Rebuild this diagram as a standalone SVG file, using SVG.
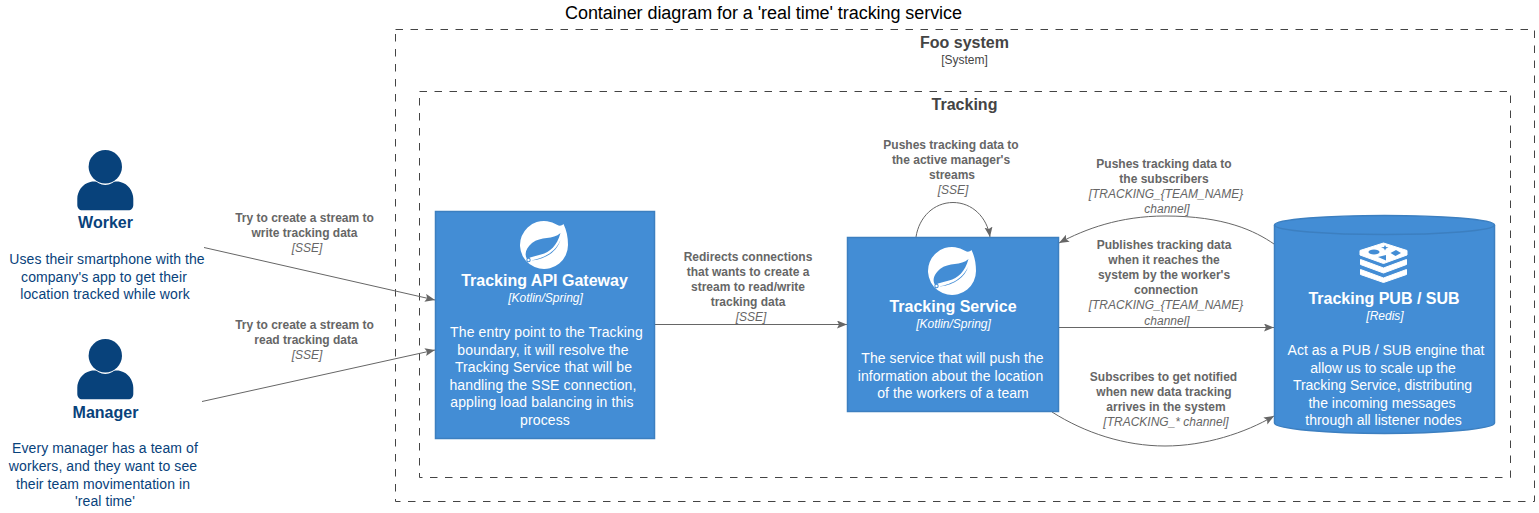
<svg xmlns="http://www.w3.org/2000/svg" width="1539" height="513" viewBox="0 0 1539 513">
<style>
text{font-family:"Liberation Sans",Arial,sans-serif;text-anchor:middle}
.title{font-size:18px;fill:#000;letter-spacing:-.06px}
.bn{font-size:16px;font-weight:bold;fill:#444}
.bt{font-size:12px;fill:#444}
.bound{fill:none;stroke:#444;stroke-width:1;stroke-dasharray:7.5 7.5}
.pn{font-size:16px;font-weight:bold;fill:#08427b}
.pd{font-size:14px;fill:#08427b;letter-spacing:.08px}
.cn{font-size:16px;font-weight:bold;fill:#fff}
.ct{font-size:12px;font-style:italic;fill:#fff}
.cd{font-size:14px;fill:#fff;letter-spacing:.12px}
#service .cd{letter-spacing:.06px}
#pubsub .cd{letter-spacing:0}
.box{fill:#438dd5;stroke:#3c7fc0;stroke-width:1.5}
.rl{font-size:12px;font-weight:bold;fill:#666}
.rt{font-size:12px;font-style:italic;fill:#666}
.c{fill:none;stroke:#666;stroke-width:1;marker-end:url(#a)}
.p{fill:#08427b}
</style>
<defs>
<marker id="a" markerUnits="userSpaceOnUse" markerWidth="12" markerHeight="10" refX="10" refY="4" orient="auto"><path d="M0 0L10 4L0 8L2 4Z" fill="#666"/></marker>
<g id="person"><circle cx="0" cy="0" r="16.700"/><path d="M-15 15.300C-11 14.500-9 15-7 16.300C-2.500 18.800 2.500 18.800 7 16.300C9 15 11 14.500 15 15.300C23 17 28 25 28 32V38C28 41.500 26 43.500 23 43.500H-23C-26 43.500-28 41.500-28 38V32C-28 25-23 17-15 15.300Z"/></g>
<g id="spring"><path fill="#fff" d="M19.500 -21C22.500 -15 24 -8 24 0A24 24 0 1 1 13 -20.200C15.500 -18.800 17.500 -19 19.500 -21Z"/><path fill="#438dd5" d="M16.500 -12C9 -5 -3 -9 -12 -2C-18 3-20 9-17 14C-13 11.500-8 11-3 9.500C6 7 13 1 16.500 -12Z"/><path fill="#438dd5" d="M-12.500 15.500C-4 13.500 10 10 16.500 -5C13 6 3 14-12.500 15.500Z"/><circle cx="-15.500" cy="15" r="2.200" fill="#438dd5"/><circle cx="-15.500" cy="15" r="1.200" fill="#fff"/></g>
</defs>
<text class="title" x="763.500" y="18.500">Container diagram for a 'real time' tracking service</text>
<g id="foo-system"><rect class="bound" x="395.500" y="29.500" width="1139" height="472"/><text class="bn" x="964.500" y="48">Foo system</text><text class="bt" x="964.500" y="64">[System]</text></g>
<g id="tracking"><rect class="bound" x="419.500" y="91.500" width="1091" height="386"/><text class="bn" x="964.500" y="110">Tracking</text></g>
<g id="connectors">
<path class="c" d="M204 247.500L435 300"/>
<path class="c" d="M202 401.500L435 350"/>
<path class="c" d="M655 324.500H847"/>
<path class="c" d="M916 237C919 217 934 202.500 953 202.500C972 202.500 987 217 990 237"/>
<path class="c" d="M1274 244C1255 231 1225 216 1165 216C1120 216 1085 229 1059 243"/>
<path class="c" d="M1059 327.500H1274"/>
<path class="c" d="M1052 412C1085 433 1125 446 1165 446C1205 446 1245 433 1274 416"/>
</g>
<g id="labels">
<text class="rl"><tspan x="304.500" y="222">Try to create a stream to</tspan><tspan x="304.500" y="237">write tracking data</tspan></text><text class="rt" x="307" y="252">[SSE]</text>
<text class="rl"><tspan x="304.500" y="329">Try to create a stream to</tspan><tspan x="306" y="344">read tracking data</tspan></text><text class="rt" x="307" y="359">[SSE]</text>
<text class="rl"><tspan x="748" y="261">Redirects connections</tspan><tspan x="748" y="276">that wants to create a</tspan><tspan x="748" y="291">stream to read/write</tspan><tspan x="748" y="306">tracking data</tspan></text><text class="rt" x="751" y="321">[SSE]</text>
<text class="rl"><tspan x="951" y="149">Pushes tracking data to</tspan><tspan x="951" y="164">the active manager's</tspan><tspan x="952" y="179">streams</tspan></text><text class="rt" x="953" y="194">[SSE]</text>
<text class="rl"><tspan x="1164" y="168">Pushes tracking data to</tspan><tspan x="1164" y="183">the subscribers</tspan></text><text class="rt"><tspan x="1166" y="198">[TRACKING_{TEAM_NAME}</tspan><tspan x="1167" y="213">channel]</tspan></text>
<text class="rl"><tspan x="1164" y="249">Publishes tracking data</tspan><tspan x="1164" y="264">when it reaches the</tspan><tspan x="1164" y="279">system by the worker's</tspan><tspan x="1166" y="294">connection</tspan></text><text class="rt"><tspan x="1166" y="309">[TRACKING_{TEAM_NAME}</tspan><tspan x="1167" y="325">channel]</tspan></text>
<text class="rl"><tspan x="1163.500" y="381">Subscribes to get notified</tspan><tspan x="1164" y="396">when new data tracking</tspan><tspan x="1166" y="411">arrives in the system</tspan></text><text class="rt" x="1166" y="426">[TRACKING_* channel]</text>
</g>
<g id="worker">
<use href="#person" class="p" x="105.300" y="166.700"/>
<text class="pn" x="105.500" y="227.500">Worker</text>
<text class="pd"><tspan x="107" y="264">Uses their smartphone with the</tspan><tspan x="104" y="282">company's app to get their</tspan><tspan x="105" y="299">location tracked while work</tspan></text>
</g>
<g id="manager">
<use href="#person" class="p" x="105.300" y="355.700"/>
<text class="pn" x="105.500" y="418">Manager</text>
<text class="pd"><tspan x="105" y="453">Every manager has a team of</tspan><tspan x="103" y="471">workers, and they want to see</tspan><tspan x="103" y="489">their team movimentation in</tspan><tspan x="105" y="506">'real time'</tspan></text>
</g>
<g id="gateway">
<rect class="box" x="435.500" y="211.500" width="219" height="227"/>
<use href="#spring" x="544" y="245"/>
<text class="cn" x="544.500" y="286">Tracking API Gateway</text>
<text class="ct" x="545.500" y="302">[Kotlin/Spring]</text>
<text class="cd"><tspan x="546.500" y="337">The entry point to the Tracking</tspan><tspan x="543" y="355">boundary, it will resolve the</tspan><tspan x="543.500" y="372">Tracking Service that will be</tspan><tspan x="543" y="390">handling the SSE connection,</tspan><tspan x="542" y="407">appling load balancing in this</tspan><tspan x="545" y="425">process</tspan></text>
</g>
<g id="service">
<rect class="box" x="847.500" y="237.500" width="211" height="174"/>
<use href="#spring" x="952" y="271"/>
<text class="cn" x="953" y="312">Tracking Service</text>
<text class="ct" x="953.500" y="328">[Kotlin/Spring]</text>
<text class="cd"><tspan x="952.500" y="363">The service that will push the</tspan><tspan x="950.500" y="381">information about the location</tspan><tspan x="953" y="398">of the workers of a team</tspan></text>
</g>
<g id="pubsub">
<path fill="#438dd5" stroke="#3c7fc0" stroke-width="1.500" d="M1274.500 225C1274.500 219 1330 215.500 1384.500 215.500C1439 215.500 1494.500 219 1494.500 225V423C1494.500 429 1439 433.500 1384.500 433.500C1330 433.500 1274.500 429 1274.500 423Z"/>
<path fill="none" stroke="#3c7fc0" stroke-width="1.500" d="M1274.500 225C1274.500 231 1330 234.500 1384.500 234.500C1439 234.500 1494.500 231 1494.500 225"/>
<g fill="#fff" stroke="#fff" stroke-width="1" stroke-linejoin="round">
<path d="M1383.500 243L1407 250.500V255L1383.500 263.500L1360 255V250.500Z"/>
<path d="M1360.500 259.500L1383.500 268L1406.500 259.500V264.500L1383.500 273L1360.500 264.500Z"/>
<path d="M1360.500 269.500L1383.500 278L1406.500 269.500V274.500L1383.500 282.500L1360.500 274.500Z"/>
</g>
<g fill="#438dd5"><ellipse cx="1374" cy="252" rx="5.500" ry="2.500"/><path d="M1385 245L1386 247L1388.500 247.500L1386 248.500L1385 250.500L1384 248.500L1381 247.500L1384 247Z"/><path d="M1396 250L1401 253L1395.500 256L1390.500 253Z"/><path d="M1378 257L1386 255V260.500Z"/></g>
<text class="cn" x="1384" y="304">Tracking PUB / SUB</text>
<text class="ct" x="1385" y="320">[Redis]</text>
<text class="cd"><tspan x="1386" y="355">Act as a PUB / SUB engine that</tspan><tspan x="1383" y="373">allow us to scale up the</tspan><tspan x="1382.500" y="390">Tracking Service, distributing</tspan><tspan x="1382" y="408">the incoming messages</tspan><tspan x="1383.500" y="425">through all listener nodes</tspan></text>
</g>
</svg>
